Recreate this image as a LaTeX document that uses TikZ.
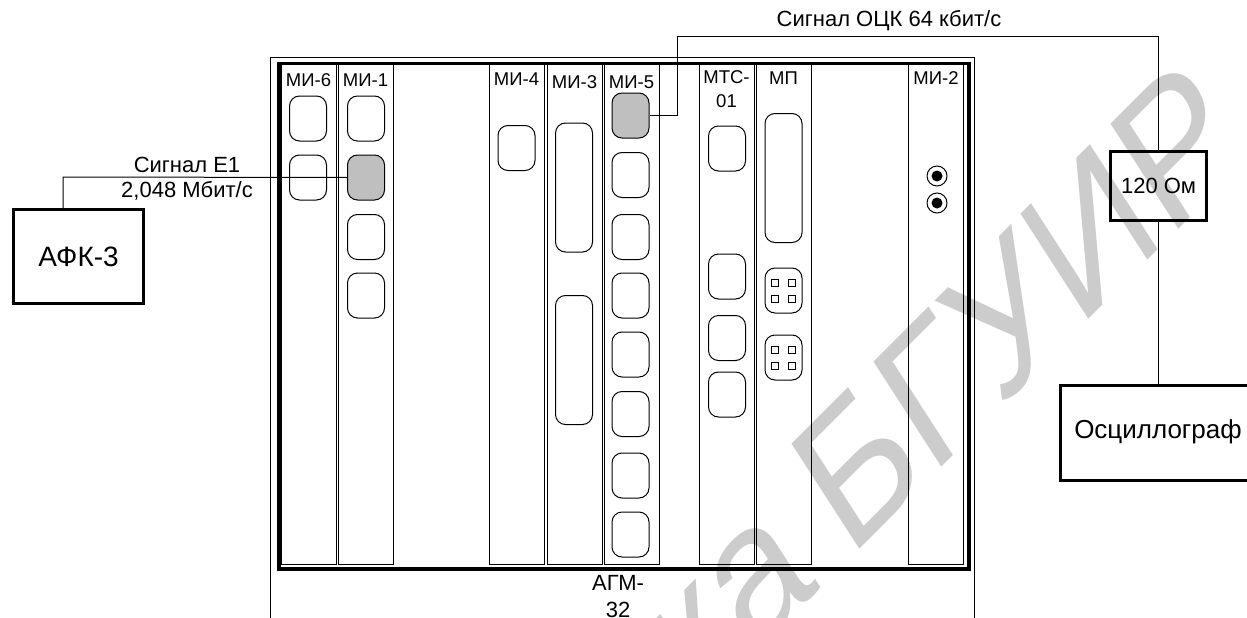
\documentclass[tikz,border=0pt]{standalone}
\usepackage{fontspec}
\setmainfont{Liberation Sans}
\tikzset{
  slotbox/.style={draw,line width=1pt,minimum width=55pt,minimum height=500pt,anchor=north,inner sep=0pt},
  slottext/.style={font=\fontsize{18.5}{24}\selectfont,align=center,inner sep=0pt},
  sigtext/.style={font=\fontsize{22}{26}\selectfont,inner sep=0pt},
  portbox/.style={draw,line width=1pt,rounded corners=10pt,minimum width=37pt,minimum height=45pt,inner sep=0pt},
  longport/.style={portbox,minimum height=129pt},
  activeport/.style={portbox,fill=black!25},
  pinbox/.style={draw,line width=1pt,minimum size=7pt,inner sep=0pt},
  devbox/.style={draw,line width=3.2pt,inner sep=0pt,font=\fontsize{28}{32}\selectfont},
  sockout/.style={draw,circle,line width=1pt,minimum size=20pt,inner sep=0pt},
  sockin/.style={fill,circle,minimum size=11pt,inner sep=0pt}
}
\begin{document}
\begin{tikzpicture}[x=1pt,y=-1pt]
  \useasboundingbox (0,0) rectangle (1247,618);
  % Watermark behind the drawing
  \begin{scope}
    \clip (0,0) rectangle (1247,618);
    \begin{scope}[shift={(1252,156)},xscale=0.803,rotate=38.8,transform shape]
      \node[xscale=1.02,text=black!20,anchor=base east,inner sep=0pt,font=\fontsize{196}{196}\selectfont] (mark) at (0,0) {Библиотека\hspace{-10pt} БГУИР};
    \end{scope}
  \end{scope}
  % Frame of the rack
  \node[draw,line width=1pt,anchor=north west,minimum width=704pt,minimum height=600pt,inner sep=0pt] (agmout) at (270,57) {};
  \node[draw,line width=3.5pt,anchor=north west,minimum width=690pt,minimum height=505pt,inner sep=0pt] (agm) at (277,62) {};
  \node[slottext,font=\fontsize{22}{27}\selectfont] (agmtext) at (618,597) {АГМ-\\32};
  % Slots
  \node[slotbox] (s6) at (308.5,64) {};
  \node[slotbox] (s1) at (365.5,64) {};
  \node[slotbox] (s4) at (516.5,64) {};
  \node[slotbox] (s3) at (574.5,64) {};
  \node[slotbox] (s5) at (631.5,64) {};
  \node[slotbox] (sm) at (726.5,64) {};
  \node[slotbox] (sp) at (783.5,64) {};
  \node[slotbox] (s2) at (936,64) {};
  \node[slottext] (t6) at (308.5,80) {МИ-6};
  \node[slottext] (t1) at (365.5,80) {МИ-1};
  \node[slottext] (t4) at (516.5,79) {МИ-4};
  \node[slottext] (t3) at (574.5,82) {МИ-3};
  \node[slottext] (t5) at (631.5,82) {МИ-5};
  \node[slottext] (tm) at (726.5,89) {МТС-\\01};
  \node[slottext] (tp) at (783.5,78) {МП};
  \node[slottext] (t2) at (936,78) {МИ-2};
  % Ports
  \node[portbox] (p6a) at (308,118.5) {};
  \node[portbox] (p6b) at (308,177.5) {};
  \node[portbox] (p1a) at (366,118.5) {};
  \node[activeport] (p1b) at (366,177.5) {};
  \node[portbox] (p1c) at (366,237) {};
  \node[portbox] (p1d) at (366,295.5) {};
  \node[portbox] (p4a) at (516.5,148) {};
  \node[longport] (p3a) at (574,187.5) {};
  \node[longport] (p3b) at (574,360) {};
  \node[activeport] (p5a) at (630.5,115.5) {};
  \node[portbox] (p5b) at (630.5,175) {};
  \node[portbox] (p5c) at (630.5,237) {};
  \node[portbox] (p5d) at (630.5,295.5) {};
  \node[portbox] (p5e) at (630.5,354.5) {};
  \node[portbox] (p5f) at (630.5,414) {};
  \node[portbox] (p5g) at (630.5,475.5) {};
  \node[portbox] (p5h) at (630.5,534.5) {};
  \node[portbox] (pma) at (727,148.5) {};
  \node[portbox] (pmb) at (727,276.5) {};
  \node[portbox] (pmc) at (727,338) {};
  \node[portbox] (pmd) at (727,394.5) {};
  \node[longport] (ppa) at (783.5,178) {};
  \node[portbox] (ppb) at (783.5,290.5) {};
  \node[portbox] (ppc) at (783.5,357.5) {};
  % Contacts of the two small blocks
  \foreach \n/\y in {b/290.5,c/357.5} {
    \node[pinbox] (q\n a) at (775,\y-8) {};
    \node[pinbox] (q\n b) at (792,\y-8) {};
    \node[pinbox] (q\n c) at (775,\y+8) {};
    \node[pinbox] (q\n d) at (792,\y+8) {};
  }
  % Sockets
  \node[sockout] (soa) at (937,176) {};
  \node[sockin] (sia) at (937,176) {};
  \node[sockout] (sob) at (937,203) {};
  \node[sockin] (sib) at (937,203) {};
  % Devices and lines
  \node[devbox,anchor=north west,minimum width=130pt,minimum height=94pt] (afk) at (12,208) {АФК-3};
  \node[devbox,anchor=north west,minimum width=96pt,minimum height=69pt,font=\fontsize{22}{26}\selectfont] (ohm) at (1109,150) {120 Ом};
  \node[devbox,anchor=north west,minimum width=240pt,minimum height=95pt] (osc) at (1059,384) {};
  \node[font=\fontsize{26}{30}\selectfont,inner sep=0pt] (osctext) at (1158,432) {Осциллограф};
  \coordinate (e1top) at (63,177);
  \coordinate (ocktop) at (677.5,37);
  \draw[line width=1pt] (afk.north -| e1top) -- (e1top) -- (p1b.west);
  \draw[line width=1pt] (p5a.east) -| (ocktop) -| (ohm.north);
  \draw[line width=1pt] (ohm.south) -- (ohm.south |- osc.north);
  \node[sigtext] (e1a) at (187,165) {Сигнал Е1};
  \node[sigtext] (e1b) at (187,191) {2,048 Мбит/с};
  \node[sigtext] (ocktext) at (889,21) {Сигнал ОЦК 64 кбит/с};
\end{tikzpicture}
\end{document}
